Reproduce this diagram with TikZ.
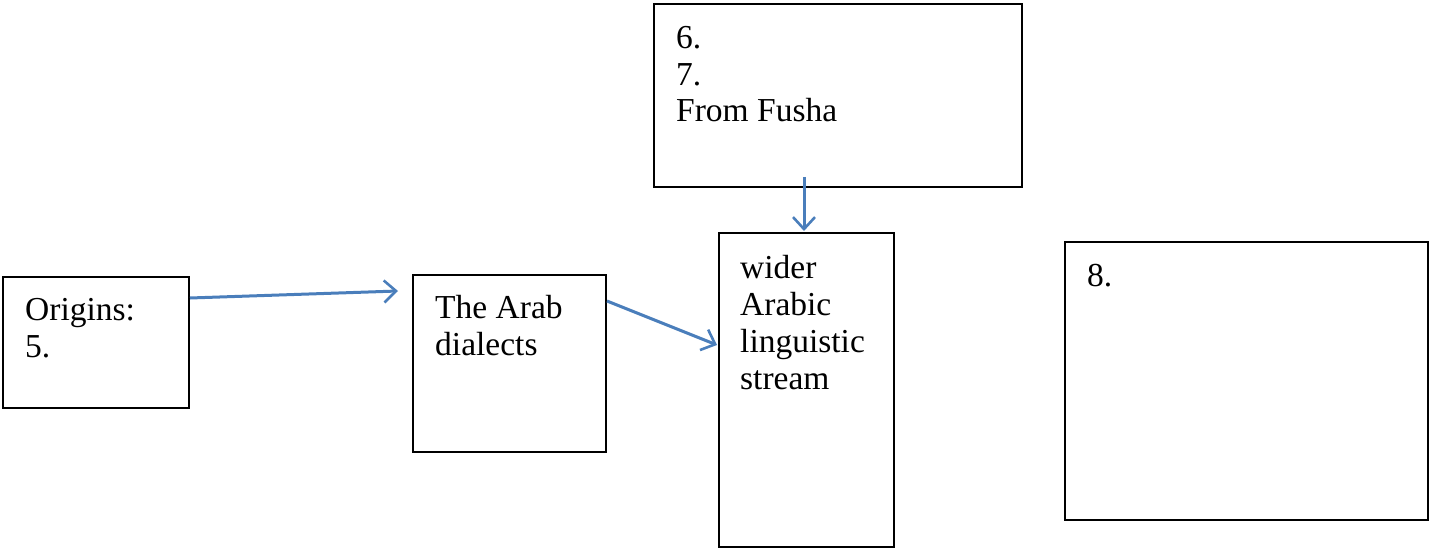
\documentclass[tikz,border=0pt]{standalone}
\usepackage{fontspec}
\setmainfont{Liberation Serif}
\usetikzlibrary{arrows.meta,calc}
\definecolor{arrowblue}{RGB}{74,126,187}
\tikzset{
  box/.style={draw=black, line width=2pt, inner sep=0pt},
  txt/.style={anchor=base west, inner sep=0pt, align=left, font=\fontsize{33.5}{37}\selectfont},
  conn/.style={draw=arrowblue, line width=3pt, -{Straight Barb[length=12pt,width=22pt,line width=2.6pt]}}
}
\begin{document}
\begin{tikzpicture}[x=1pt,y=-1pt]
\useasboundingbox (0,0) rectangle (1432,548);
% boxes
\node[box, minimum width=186pt, minimum height=131pt] (orig) at (96,342.5) {};
\node[box, minimum width=193pt, minimum height=177pt] (arab) at (509.5,363.5) {};
\node[box, minimum width=175pt, minimum height=314pt] (wider) at (806.5,390) {};
\node[box, minimum width=368pt, minimum height=183pt] (fusha) at (838,95.5) {};
\node[box, minimum width=363pt, minimum height=278pt] (eight) at (1246.5,381) {};
% texts
\node[txt] (t1) at (25,320) {Origins:};
\node[txt] (t2) at (25,357) {5.};
\node[txt] (t3) at (435,318) {The Arab};
\node[txt] (t4) at (435,355) {dialects};
\node[txt] (t5) at (740,278) {wider};
\node[txt] (t6) at (740,315) {Arabic};
\node[txt] (t7) at (740,352) {linguistic};
\node[txt] (t8) at (740,389) {stream};
\node[txt] (t9) at (676,49) {6.};
\node[txt] (t10) at (676,86) {7.};
\node[txt] (t11) at (676,122) {From Fusha};
\node[txt] (t12) at (1087,286) {8.};
% connector endpoints
\coordinate (a1s) at ($(orig.north east)+(0,22)$);
\coordinate (a1e) at ($(arab.north west)+(-14,17)$);
\coordinate (a2s) at ($(arab.north east)+(0,27)$);
\coordinate (a2e) at ($(wider.north west)+(-1,113)$);
\coordinate (a3s) at ($(fusha.south)+(-34,-11)$);
\coordinate (a3e) at ($(wider.north)+(-2.5,-1)$);
\draw[conn] (a1s) -- (a1e);
\draw[conn] (a2s) -- (a2e);
\draw[conn] (a3s) -- (a3e);
\end{tikzpicture}
\end{document}
